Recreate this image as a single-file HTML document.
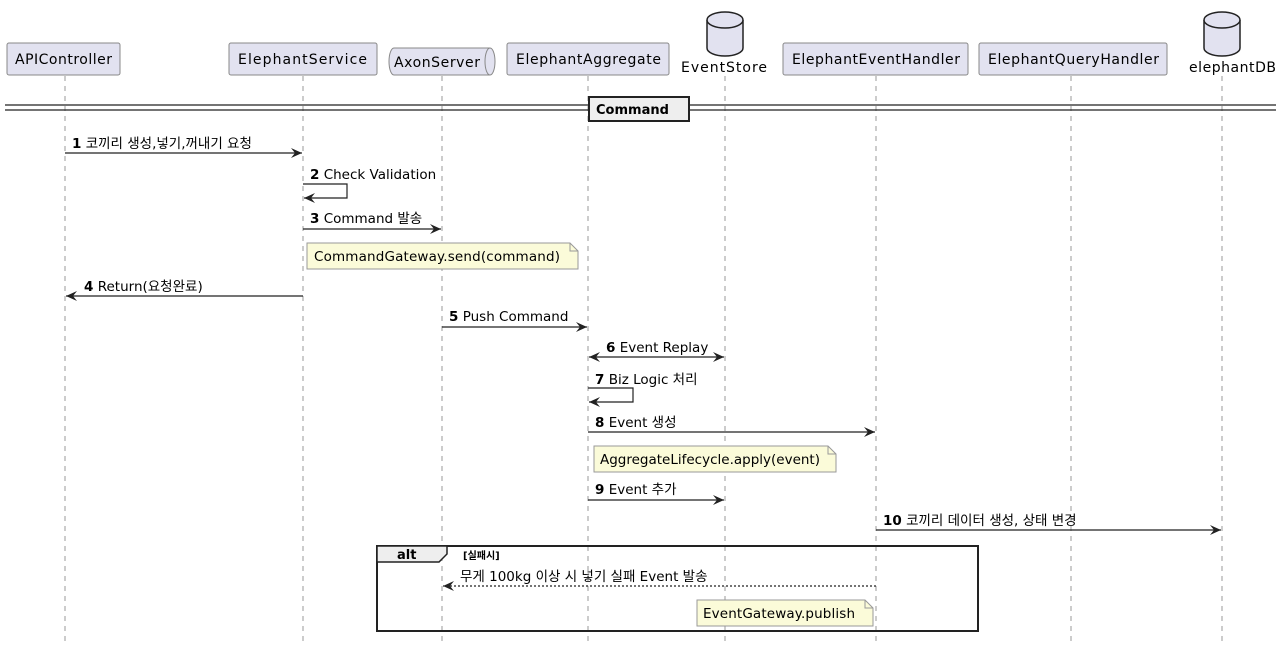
<!DOCTYPE html>
<html><head><meta charset="utf-8"><style>
html,body{margin:0;padding:0;background:#fff}
svg{display:block}
text{font-family:"DejaVu Sans","Liberation Sans","Noto Sans CJK KR",sans-serif;fill:#000}
.p{font-size:14px}
.m{font-size:13.5px}
.b{font-weight:bold}
.ll{stroke:#999;stroke-width:1;stroke-dasharray:5,5}
.box{fill:#e2e2f0;stroke:#888;stroke-width:1}
.ar{stroke:#222;stroke-width:1.2;fill:none}
.note{fill:#fbfbd9;stroke:#999;stroke-width:1}
</style></head><body>
<svg width="1280" height="645" viewBox="0 0 1280 645" xmlns="http://www.w3.org/2000/svg">
<defs>
<marker id="ah" markerWidth="12" markerHeight="10" refX="11" refY="5" orient="auto" markerUnits="userSpaceOnUse">
<path d="M0,0 L11,5 L0,10 L4,5 Z" fill="#222"/></marker>
<marker id="ahs" markerWidth="12" markerHeight="10" refX="1" refY="5" orient="auto" markerUnits="userSpaceOnUse">
<path d="M12,0 L1,5 L12,10 L8,5 Z" fill="#222"/></marker>
</defs>
<g class="ll">
<line x1="65" y1="76" x2="65" y2="645"/><line x1="303" y1="76" x2="303" y2="645"/>
<line x1="442" y1="76" x2="442" y2="645"/><line x1="588" y1="76" x2="588" y2="645"/>
<line x1="725" y1="76" x2="725" y2="645"/><line x1="876" y1="76" x2="876" y2="645"/>
<line x1="1071" y1="76" x2="1071" y2="645"/><line x1="1222" y1="76" x2="1222" y2="645"/>
</g>
<rect class="box" x="7" y="43" width="113" height="32" rx="2"/><text class="p" x="15" y="64" textLength="97">APIController</text>
<rect class="box" x="229" y="43" width="148" height="32" rx="2"/><text class="p" x="238" y="64" textLength="129">ElephantService</text>
<path d="M394,48 H490 A5,13.5 0 0 1 490,75 H394 A5,13.5 0 0 1 394,48 Z" class="box"/>
<path d="M490,48 A5,13.5 0 0 0 490,75" fill="none" stroke="#888"/>
<text class="p" x="394" y="67" textLength="86">AxonServer</text>
<rect class="box" x="507" y="43" width="162" height="32" rx="2"/><text class="p" x="516" y="64" textLength="145">ElephantAggregate</text>
<g fill="#e2e2f0" stroke="#222" stroke-width="1.5">
<path d="M707,20 V48 A18,8 0 0 0 743,48 V20"/><ellipse cx="725" cy="20" rx="18" ry="8"/>
<path d="M1204,20 V48 A18,8 0 0 0 1240,48 V20"/><ellipse cx="1222" cy="20" rx="18" ry="8"/>
</g>
<text class="p" x="681" y="72" textLength="86">EventStore</text>
<text class="p" x="1189" y="72" textLength="87">elephantDB</text>
<rect class="box" x="783" y="43" width="185" height="32" rx="2"/><text class="p" x="792" y="64" textLength="168">ElephantEventHandler</text>
<rect class="box" x="979" y="43" width="188" height="32" rx="2"/><text class="p" x="988" y="64" textLength="171">ElephantQueryHandler</text>
<line x1="5" y1="105" x2="1276" y2="105" stroke="#222" stroke-width="1.3"/>
<line x1="5" y1="110" x2="1276" y2="110" stroke="#222" stroke-width="1.3"/>
<rect x="589" y="97" width="100" height="24" fill="#eee" stroke="#222" stroke-width="2"/>
<text class="b" style="font-size:13px" x="596" y="114">Command</text>
<line class="ar" x1="65" y1="153" x2="302" y2="153" marker-end="url(#ah)"/>
<text class="m" x="72" y="148"><tspan class="b">1</tspan> 코끼리 생성,넣기,꺼내기 요청</text>
<path class="ar" d="M303,184 H347 V198 H304" marker-end="url(#ah)"/>
<text class="m" x="310" y="179"><tspan class="b">2</tspan> Check Validation</text>
<line class="ar" x1="303" y1="229" x2="441" y2="229" marker-end="url(#ah)"/>
<text class="m" x="310" y="223"><tspan class="b">3</tspan> Command 발송</text>
<path class="note" d="M307,243 H570 L578,251 V269 H307 Z"/><path d="M570,243 V251 H578" fill="none" stroke="#999"/>
<text class="m" x="314" y="261" textLength="246">CommandGateway.send(command)</text>
<line class="ar" x1="303" y1="296" x2="66" y2="296" marker-end="url(#ah)"/>
<text class="m" x="84" y="291"><tspan class="b">4</tspan> Return(요청완료)</text>
<line class="ar" x1="442" y1="327" x2="587" y2="327" marker-end="url(#ah)"/>
<text class="m" x="449" y="321"><tspan class="b">5</tspan> Push Command</text>
<line class="ar" x1="589" y1="357" x2="724" y2="357" marker-end="url(#ah)" marker-start="url(#ahs)"/>
<text class="m" x="606" y="352"><tspan class="b">6</tspan> Event Replay</text>
<path class="ar" d="M588,388 H633 V402 H589" marker-end="url(#ah)"/>
<text class="m" x="595" y="384"><tspan class="b">7</tspan> Biz Logic 처리</text>
<line class="ar" x1="588" y1="432" x2="875" y2="432" marker-end="url(#ah)"/>
<text class="m" x="595" y="427"><tspan class="b">8</tspan> Event 생성</text>
<path class="note" d="M594,446 H828 L836,454 V472 H594 Z"/><path d="M828,446 V454 H836" fill="none" stroke="#999"/>
<text class="m" x="600" y="464" textLength="220">AggregateLifecycle.apply(event)</text>
<line class="ar" x1="588" y1="500" x2="724" y2="500" marker-end="url(#ah)"/>
<text class="m" x="595" y="494"><tspan class="b">9</tspan> Event 추가</text>
<line class="ar" x1="876" y1="530" x2="1221" y2="530" marker-end="url(#ah)"/>
<text class="m" x="883" y="525"><tspan class="b">10</tspan> 코끼리 데이터 생성, 상태 변경</text>
<rect x="377" y="546" width="601" height="85" fill="none" stroke="#222" stroke-width="2"/>
<path d="M377,546 H447 V554 L439,562 H377 Z" fill="#eee" stroke="#222" stroke-width="1.5"/>
<text class="b" style="font-size:13px" x="397" y="559">alt</text>
<text x="463" y="559" style="font-size:10px;font-weight:bold">[실패시]</text>
<line x1="876" y1="586" x2="443" y2="586" stroke="#222" stroke-width="1.2" stroke-dasharray="2,2" marker-end="url(#ah)"/>
<text class="m" x="460" y="581">무게 100kg 이상 시 넣기 실패 Event 발송</text>
<path class="note" d="M697,600 H865 L873,608 V626 H697 Z"/><path d="M865,600 V608 H873" fill="none" stroke="#999"/>
<text class="m" x="703" y="618" textLength="152">EventGateway.publish</text>
</svg>
</body></html>
